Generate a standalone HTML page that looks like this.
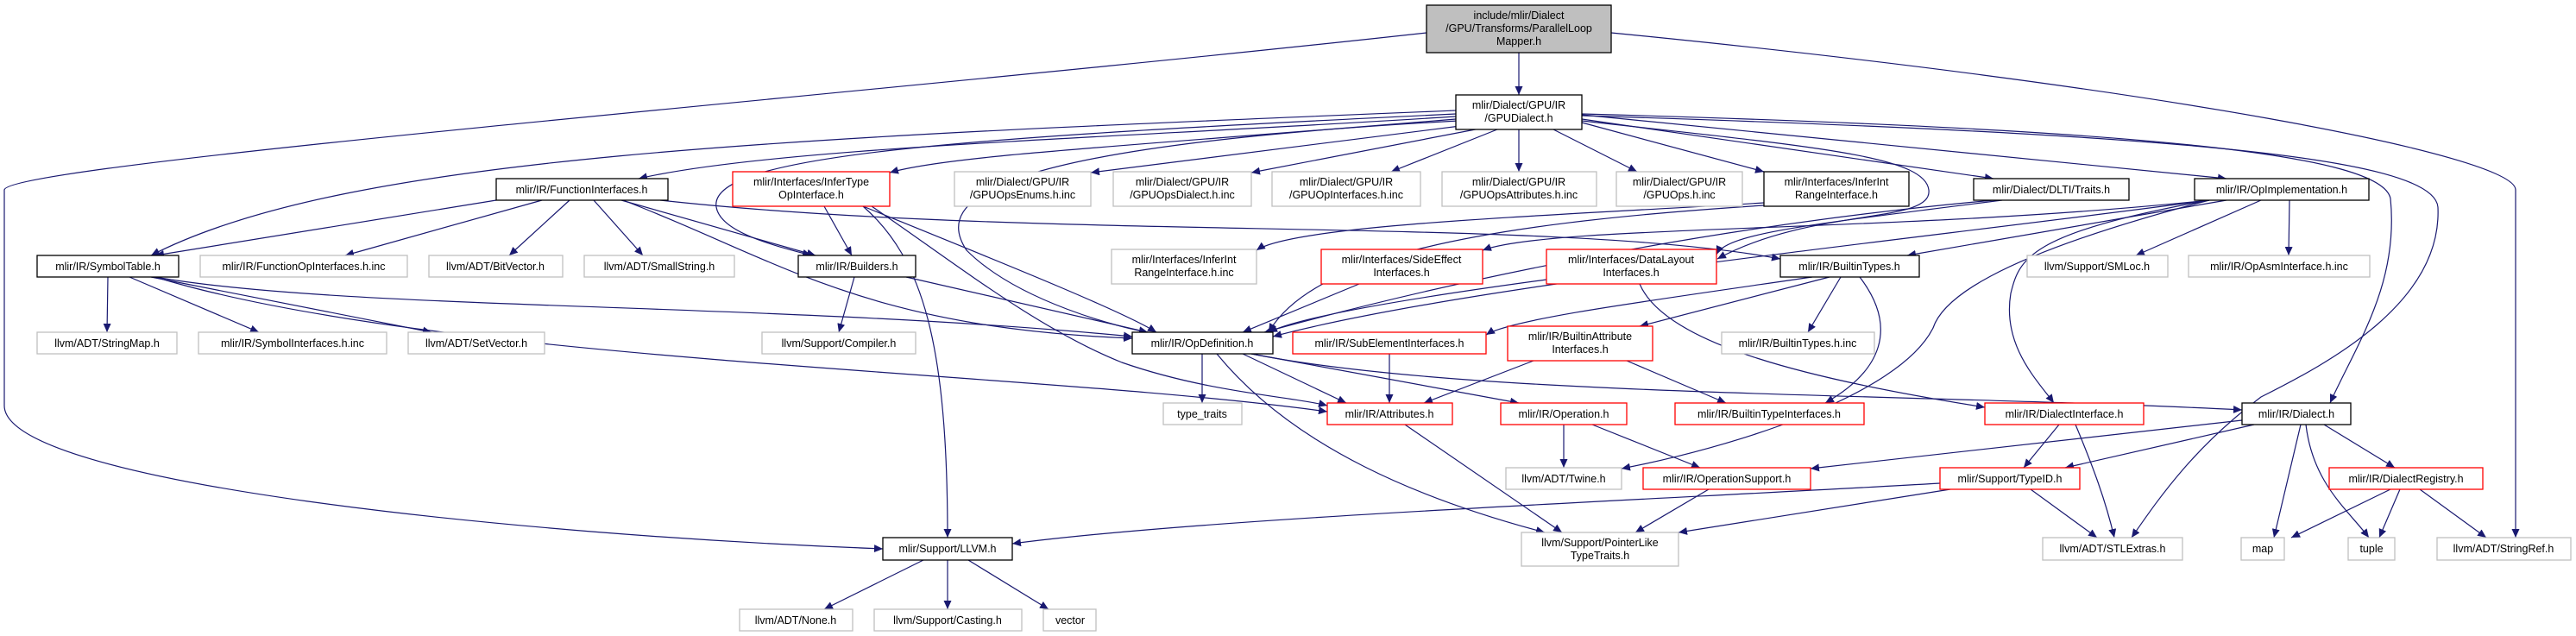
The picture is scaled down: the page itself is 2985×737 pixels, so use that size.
<!DOCTYPE html>
<html><head><meta charset="utf-8"><style>
html,body{margin:0;padding:0;background:#fff;}
svg{display:block;}
text{font-family:"Liberation Sans",sans-serif;font-size:12.5px;fill:#000;text-anchor:middle;}
.e{fill:none;stroke:#191970;stroke-width:1.2;marker-end:url(#a);}
.k{fill:#fff;stroke:#000;stroke-width:1.3;}
.g{fill:#fff;stroke:#bfbfbf;stroke-width:1.3;}
.r{fill:#fff;stroke:#ff0000;stroke-width:1.3;}
</style></head><body>
<svg width="2985" height="737" viewBox="0 0 2985 737" xmlns="http://www.w3.org/2000/svg">
<defs><marker id="a" markerWidth="11" markerHeight="9" refX="10" refY="4.5" orient="auto" markerUnits="userSpaceOnUse"><path d="M0,0 L10,4.5 L0,9z" fill="#191970"/></marker></defs>
<g>
<path class="e" d="M1760,61 L1760,110"/>
<path class="e" d="M1653,38 C1000,110 10,190 5,220 L5,470 C5,560 600,620 1023,636"/>
<path class="e" d="M1867,38 C2500,100 2915,180 2915,220 L2915,623"/>
<path class="e" d="M1687,135 C1300,160 900,170 740,207"/>
<path class="e" d="M1687,128 C900,160 400,180 175,296"/>
<path class="e" d="M1687,138 C1300,170 1100,180 1031,200"/>
<path class="e" d="M1700,145 L1264,200"/>
<path class="e" d="M1720,148 L1450,200"/>
<path class="e" d="M1735,150 L1612,199"/>
<path class="e" d="M1760,150 L1760,199"/>
<path class="e" d="M1800,150 L1897,199"/>
<path class="e" d="M1833,142 L2044,199"/>
<path class="e" d="M1833,138 L2310,207"/>
<path class="e" d="M1833,133 L2580,207"/>
<path class="e" d="M1687,132 C1100,160 820,180 830,240 C835,270 900,285 940,296"/>
<path class="e" d="M1690,140 C1150,170 1080,230 1120,290 C1180,350 1300,380 1330,385"/>
<path class="e" d="M1833,132 C2500,150 2760,180 2770,230 C2780,330 2730,400 2700,467"/>
<path class="e" d="M1833,134 C2500,155 2820,180 2825,240 C2830,350 2700,420 2620,460 C2540,520 2500,580 2470,623"/>
<path class="e" d="M1833,140 C2100,170 2230,180 2235,220 C2240,260 2100,240 1990,300"/>
<path class="e" d="M2044,235 C1800,250 1500,260 1456,290"/>
<path class="e" d="M2044,238 C1700,260 1520,300 1470,385"/>
<path class="e" d="M2560,232 C2200,270 1800,260 1718,290"/>
<path class="e" d="M2320,232 C2100,260 2000,270 1989,295"/>
<path class="e" d="M2580,232 L2210,296"/>
<path class="e" d="M2620,232 L2475,296"/>
<path class="e" d="M2653,232 L2652,296"/>
<path class="e" d="M2560,232 C2350,270 2340,300 2330,340 C2320,400 2360,440 2380,467"/>
<path class="e" d="M2560,232 C2200,280 1700,330 1475,390"/>
<path class="e" d="M2560,232 C2300,300 2250,350 2240,380 C2200,460 2000,520 1879,543"/>
<path class="e" d="M2100,321 C1900,350 1750,370 1722,388"/>
<path class="e" d="M2120,321 L1900,378"/>
<path class="e" d="M2133,321 L2095,385"/>
<path class="e" d="M2155,321 C2200,380 2180,430 2115,467"/>
<path class="e" d="M575,232 L180,296"/>
<path class="e" d="M628,232 L400,296"/>
<path class="e" d="M660,232 L590,296"/>
<path class="e" d="M688,232 L745,296"/>
<path class="e" d="M720,232 L945,296"/>
<path class="e" d="M722,232 C900,300 1000,380 1312,392"/>
<path class="e" d="M765,232 C1200,280 1800,250 2063,300"/>
<path class="e" d="M955,239 L987,296"/>
<path class="e" d="M1000,239 C1150,300 1300,360 1340,385"/>
<path class="e" d="M1000,239 C1070,300 1098,400 1098,623"/>
<path class="e" d="M1010,239 C1100,300 1200,380 1300,420 C1400,455 1500,460 1538,470"/>
<path class="e" d="M125,321 L124,385"/>
<path class="e" d="M150,321 L300,385"/>
<path class="e" d="M175,321 L500,385"/>
<path class="e" d="M180,321 C400,360 900,350 1312,390"/>
<path class="e" d="M180,321 C500,420 1200,430 1538,477"/>
<path class="e" d="M990,321 L972,385"/>
<path class="e" d="M1050,321 L1330,385"/>
<path class="e" d="M1575,329 L1440,385"/>
<path class="e" d="M1792,324 C1600,350 1500,370 1470,385"/>
<path class="e" d="M1900,329 C1930,400 2100,440 2300,472"/>
<path class="e" d="M2310,232 C2000,260 1700,320 1465,385"/>
<path class="e" d="M1393,410 L1393,467"/>
<path class="e" d="M1440,410 L1560,467"/>
<path class="e" d="M1450,410 L1760,467"/>
<path class="e" d="M1410,410 C1500,520 1650,580 1790,617"/>
<path class="e" d="M1450,410 C1700,460 2200,455 2598,475"/>
<path class="e" d="M1610,410 L1610,467"/>
<path class="e" d="M1777,418 L1650,467"/>
<path class="e" d="M1885,418 L2000,467"/>
<path class="e" d="M1628,492 L1810,617"/>
<path class="e" d="M1812,492 L1812,542"/>
<path class="e" d="M1845,492 L1970,542"/>
<path class="e" d="M1980,567 L1895,617"/>
<path class="e" d="M2598,487 L2098,543"/>
<path class="e" d="M2612,492 L2393,542"/>
<path class="e" d="M2666,492 L2635,623"/>
<path class="e" d="M2672,492 C2680,560 2720,590 2745,623"/>
<path class="e" d="M2693,492 L2775,542"/>
<path class="e" d="M2386,492 L2345,542"/>
<path class="e" d="M2405,492 C2425,540 2440,580 2450,623"/>
<path class="e" d="M2248,560 C1900,580 1400,600 1173,630"/>
<path class="e" d="M2260,567 L1945,617"/>
<path class="e" d="M2353,567 L2430,623"/>
<path class="e" d="M2770,567 L2655,623"/>
<path class="e" d="M2781,567 L2757,623"/>
<path class="e" d="M2804,567 L2881,623"/>
<path class="e" d="M1070,649 L955,706"/>
<path class="e" d="M1098,649 L1098,706"/>
<path class="e" d="M1122,649 L1215,706"/>
</g>
<g>
<rect x="1653" y="6" width="214" height="55" fill="#bfbfbf" stroke="#000" stroke-width="1.3"/>
<text x="1760" y="22">include/mlir/Dialect</text><text x="1760" y="37">/GPU/Transforms/ParallelLoop</text><text x="1760" y="52">Mapper.h</text>
<rect class="k" x="1687" y="110" width="146" height="40"/><text x="1760" y="126">mlir/Dialect/GPU/IR</text><text x="1760" y="141">/GPUDialect.h</text>
<rect class="k" x="575" y="207" width="199" height="25"/><text x="674" y="224">mlir/IR/FunctionInterfaces.h</text>
<rect class="r" x="849" y="199" width="182" height="40"/><text x="940" y="215">mlir/Interfaces/InferType</text><text x="940" y="230">OpInterface.h</text>
<rect class="g" x="1106" y="199" width="158" height="40"/><text x="1185" y="215">mlir/Dialect/GPU/IR</text><text x="1185" y="230">/GPUOpsEnums.h.inc</text>
<rect class="g" x="1290" y="199" width="160" height="40"/><text x="1370" y="215">mlir/Dialect/GPU/IR</text><text x="1370" y="230">/GPUOpsDialect.h.inc</text>
<rect class="g" x="1474" y="199" width="172" height="40"/><text x="1560" y="215">mlir/Dialect/GPU/IR</text><text x="1560" y="230">/GPUOpInterfaces.h.inc</text>
<rect class="g" x="1671" y="199" width="179" height="40"/><text x="1760" y="215">mlir/Dialect/GPU/IR</text><text x="1760" y="230">/GPUOpsAttributes.h.inc</text>
<rect class="g" x="1873" y="199" width="146" height="40"/><text x="1946" y="215">mlir/Dialect/GPU/IR</text><text x="1946" y="230">/GPUOps.h.inc</text>
<rect class="k" x="2044" y="199" width="168" height="40"/><text x="2128" y="215">mlir/Interfaces/InferInt</text><text x="2128" y="230">RangeInterface.h</text>
<rect class="k" x="2287" y="207" width="180" height="25"/><text x="2377" y="224">mlir/Dialect/DLTI/Traits.h</text>
<rect class="k" x="2543" y="207" width="202" height="25"/><text x="2644" y="224">mlir/IR/OpImplementation.h</text>
<rect class="k" x="43" y="296" width="164" height="25"/><text x="125" y="313">mlir/IR/SymbolTable.h</text>
<rect class="g" x="232" y="296" width="240" height="25"/><text x="352" y="313">mlir/IR/FunctionOpInterfaces.h.inc</text>
<rect class="g" x="497" y="296" width="155" height="25"/><text x="574" y="313">llvm/ADT/BitVector.h</text>
<rect class="g" x="677" y="296" width="174" height="25"/><text x="764" y="313">llvm/ADT/SmallString.h</text>
<rect class="k" x="925" y="296" width="136" height="25"/><text x="993" y="313">mlir/IR/Builders.h</text>
<rect class="g" x="1288" y="289" width="168" height="40"/><text x="1372" y="305">mlir/Interfaces/InferInt</text><text x="1372" y="320">RangeInterface.h.inc</text>
<rect class="r" x="1531" y="289" width="187" height="40"/><text x="1624" y="305">mlir/Interfaces/SideEffect</text><text x="1624" y="320">Interfaces.h</text>
<rect class="r" x="1792" y="289" width="197" height="40"/><text x="1890" y="305">mlir/Interfaces/DataLayout</text><text x="1890" y="320">Interfaces.h</text>
<rect class="k" x="2063" y="296" width="161" height="25"/><text x="2143" y="313">mlir/IR/BuiltinTypes.h</text>
<rect class="g" x="2349" y="296" width="163" height="25"/><text x="2430" y="313">llvm/Support/SMLoc.h</text>
<rect class="g" x="2536" y="296" width="210" height="25"/><text x="2641" y="313">mlir/IR/OpAsmInterface.h.inc</text>
<rect class="g" x="43" y="385" width="162" height="25"/><text x="124" y="402">llvm/ADT/StringMap.h</text>
<rect class="g" x="230" y="385" width="218" height="25"/><text x="339" y="402">mlir/IR/SymbolInterfaces.h.inc</text>
<rect class="g" x="473" y="385" width="158" height="25"/><text x="552" y="402">llvm/ADT/SetVector.h</text>
<rect class="g" x="883" y="385" width="178" height="25"/><text x="972" y="402">llvm/Support/Compiler.h</text>
<rect class="k" x="1312" y="385" width="163" height="25"/><text x="1393" y="402">mlir/IR/OpDefinition.h</text>
<rect class="r" x="1498" y="385" width="224" height="25"/><text x="1610" y="402">mlir/IR/SubElementInterfaces.h</text>
<rect class="r" x="1747" y="378" width="168" height="40"/><text x="1831" y="394">mlir/IR/BuiltinAttribute</text><text x="1831" y="409">Interfaces.h</text>
<rect class="g" x="1995" y="385" width="177" height="25"/><text x="2083" y="402">mlir/IR/BuiltinTypes.h.inc</text>
<rect class="g" x="1348" y="467" width="91" height="25"/><text x="1393" y="484">type_traits</text>
<rect class="r" x="1538" y="467" width="145" height="25"/><text x="1610" y="484">mlir/IR/Attributes.h</text>
<rect class="r" x="1739" y="467" width="146" height="25"/><text x="1812" y="484">mlir/IR/Operation.h</text>
<rect class="r" x="1941" y="467" width="219" height="25"/><text x="2050" y="484">mlir/IR/BuiltinTypeInterfaces.h</text>
<rect class="r" x="2300" y="467" width="184" height="25"/><text x="2392" y="484">mlir/IR/DialectInterface.h</text>
<rect class="k" x="2598" y="467" width="126" height="25"/><text x="2661" y="484">mlir/IR/Dialect.h</text>
<rect class="g" x="1745" y="542" width="134" height="25"/><text x="1812" y="559">llvm/ADT/Twine.h</text>
<rect class="r" x="1904" y="542" width="194" height="25"/><text x="2001" y="559">mlir/IR/OperationSupport.h</text>
<rect class="r" x="2248" y="542" width="162" height="25"/><text x="2329" y="559">mlir/Support/TypeID.h</text>
<rect class="r" x="2699" y="542" width="178" height="25"/><text x="2788" y="559">mlir/IR/DialectRegistry.h</text>
<rect class="k" x="1023" y="623" width="150" height="26"/><text x="1098" y="640">mlir/Support/LLVM.h</text>
<rect class="g" x="1763" y="617" width="182" height="39"/><text x="1854" y="633">llvm/Support/PointerLike</text><text x="1854" y="648">TypeTraits.h</text>
<rect class="g" x="2367" y="623" width="162" height="26"/><text x="2448" y="640">llvm/ADT/STLExtras.h</text>
<rect class="g" x="2597" y="623" width="50" height="26"/><text x="2622" y="640">map</text>
<rect class="g" x="2721" y="623" width="54" height="26"/><text x="2748" y="640">tuple</text>
<rect class="g" x="2824" y="623" width="155" height="26"/><text x="2901" y="640">llvm/ADT/StringRef.h</text>
<rect class="g" x="857" y="706" width="131" height="25"/><text x="922" y="723">llvm/ADT/None.h</text>
<rect class="g" x="1013" y="706" width="171" height="25"/><text x="1098" y="723">llvm/Support/Casting.h</text>
<rect class="g" x="1209" y="706" width="61" height="25"/><text x="1240" y="723">vector</text>
</g>
</svg>
</body></html>
